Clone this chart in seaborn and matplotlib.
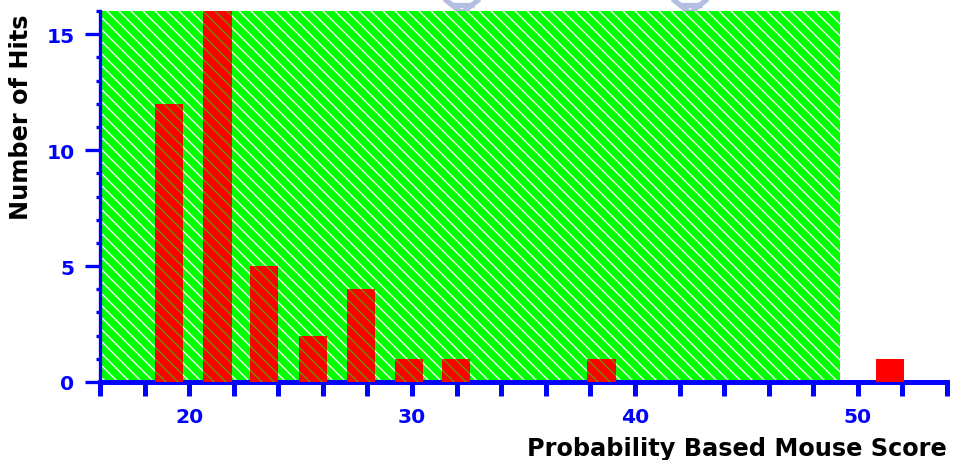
import matplotlib
matplotlib.use("Agg")
import matplotlib.pyplot as plt
from matplotlib.ticker import MultipleLocator
from matplotlib.lines import Line2D
import seaborn as sns
import pandas as pd

# ---- data ----
scores = [19.11, 21.27, 23.35, 25.57, 27.71, 29.86, 31.98, 38.50, 51.45]
hits = [12, 16, 5, 2, 4, 1, 1, 1, 1]
threshold = 49.2          # end of the green (non-significant) zone
x_ticks = [20, 30, 40, 50]
y_ticks = [0, 5, 10, 15]
x_label = "Probability Based Mouse Score"
y_label = "Number of Hits"

BLUE = "#0000ff"
GREEN = "#00ff00"
RED = "#ff0000"

sns.set_style("white")
plt.rcParams["font.family"] = ["DejaVu Sans"]
plt.rcParams["hatch.linewidth"] = 0.9

DPI = 108
W, H = 953, 461
fig = plt.figure(figsize=(W / DPI, H / DPI), dpi=DPI)

# faint watermark strokes peeking above the plot (decoration)
wm = "#b4bee0"
for cx in (462, 690):
    for (x0, y0, x1, y1) in [(cx - 20, -2, cx, 14), (cx + 20, -2, cx, 14),
                             (cx - 10, 6, cx + 12, 6)]:
        fig.add_artist(Line2D([x0 / W, x1 / W], [1 - y0 / H, 1 - y1 / H],
                              color=wm, lw=3.5, solid_capstyle="butt", zorder=0))

ax = fig.add_axes([100 / W, 1 - 383 / H, 847 / W, 371 / H])
ax.patch.set_alpha(0)

df = pd.DataFrame({"score": scores, "hits": hits})
sns.barplot(data=df, x="score", y="hits", native_scale=True, width=0.61,
            color=RED, saturation=1, errorbar=None, ax=ax, zorder=3)

HATCH = "\\\\\\"
for bar in ax.containers[0]:
    bar.set_facecolor(RED)
    bar.set_linewidth(0)
    if bar.get_x() < threshold:
        bar.set_edgecolor("#6a9000")
        bar.set_hatch(HATCH)

xmin, xmax = 16.0, 54.0
ax.axvspan(xmin, threshold, facecolor=GREEN, edgecolor="white",
           hatch=HATCH, linewidth=0, zorder=0)

ax.set_xlim(xmin, xmax)
ax.set_ylim(0, 16)

ax.xaxis.set_minor_locator(MultipleLocator(2))
ax.yaxis.set_minor_locator(MultipleLocator(1))
ax.set_xticks(x_ticks)
ax.set_yticks(y_ticks)

for side in ["top", "right"]:
    ax.spines[side].set_visible(False)
ax.spines["left"].set_color(BLUE)
ax.spines["left"].set_linewidth(2.2)
ax.spines["bottom"].set_color(BLUE)
ax.spines["bottom"].set_linewidth(3.3)

ax.tick_params(axis="x", which="both", direction="out", length=9, width=3.3,
               color=BLUE, bottom=True)
ax.tick_params(axis="x", which="major", labelsize=13.5, labelcolor=BLUE, pad=8)
ax.tick_params(axis="y", which="major", direction="out", length=10, width=2.2,
               color=BLUE, labelsize=13.5, labelcolor=BLUE, pad=7, left=True)
ax.tick_params(axis="y", which="minor", direction="out", length=2.7, width=2.2,
               color=BLUE, left=True)
for lab in ax.get_xticklabels() + ax.get_yticklabels():
    lab.set_fontweight("bold")

ax.set_xlabel(x_label, fontsize=16, fontweight="bold", color="black",
              ha="right", va="top")
ax.xaxis.set_label_coords(1.0, -0.145)
ax.set_ylabel(y_label, fontsize=16, fontweight="bold", color="black",
              ha="right")
ax.yaxis.set_label_coords(-0.079, 0.992)

ax.grid(False)
fig.savefig("out.png", dpi=DPI, facecolor="white")
